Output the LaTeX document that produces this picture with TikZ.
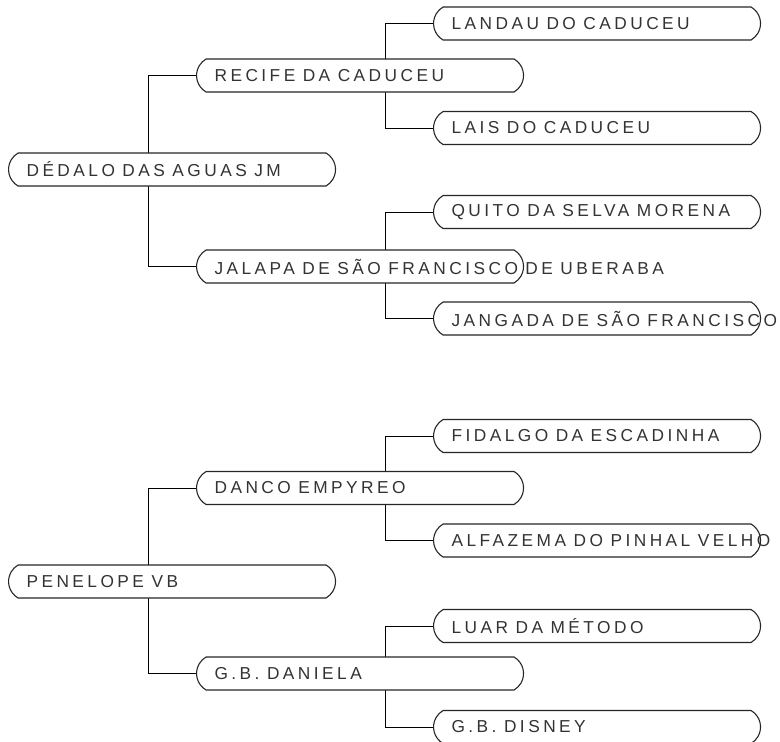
\documentclass[tikz,border=0pt]{standalone}
\usepackage{fontspec}
\setmainfont{Liberation Sans}
\newfontfamily\pedfont[LetterSpace=20]{Liberation Sans}
\newcommand\pedtype{\pedfont\fontsize{17.3}{19}\selectfont}
\newcommand\pedname[1]{\makebox[291pt][l]{\spaceskip=7.5pt\relax #1}}
\usetikzlibrary{shapes.misc,backgrounds}

\begin{document}
\begin{tikzpicture}[x=1pt,y=-1pt,
  pedbox/.style={rounded rectangle, rounded rectangle arc length=120,
    draw=black!85, line width=1.1pt, fill=white,
    minimum width=327pt, minimum height=33pt, inner xsep=0pt,
    anchor=west, font=\pedtype, text=black!80},
  link/.style={draw=black, line width=0.8pt}]
\useasboundingbox (0,0) rectangle (780,742);

% first generation
\node [pedbox] (dedalo) at (8,169.5) {\pedname{DÉDALO DAS AGUAS JM}};
\node [pedbox] (penelope) at (8,581.5) {\pedname{PENELOPE VB}};

% second generation
\node [pedbox] (recife) at (196,75.5) {\pedname{RECIFE DA CADUCEU}};
\node [pedbox] (jalapa) at (196,266.5) {\pedname{JALAPA DE SÃO FRANCISCO DE UBERABA}};
\node [pedbox] (danco) at (196,488) {\pedname{DANCO EMPYREO}};
\node [pedbox] (daniela) at (196,673.5) {\pedname{G.B. DANIELA}};

% third generation
\node [pedbox] (landau) at (433,23.5) {\pedname{LANDAU DO CADUCEU}};
\node [pedbox] (lais) at (433,128) {\pedname{LAIS DO CADUCEU}};
\node [pedbox] (quito) at (433,212) {\pedname{QUITO DA SELVA MORENA}};
\node [pedbox] (jangada) at (433,318.5) {\pedname{JANGADA DE SÃO FRANCISCO}};
\node [pedbox] (fidalgo) at (433,436) {\pedname{FIDALGO DA ESCADINHA}};
\node [pedbox] (alfazema) at (433,540.5) {\pedname{ALFAZEMA DO PINHAL VELHO}};
\node [pedbox] (luar) at (433,626) {\pedname{LUAR DA MÉTODO}};
\node [pedbox] (disney) at (433,727) {\pedname{G.B. DISNEY}};

\begin{scope}[on background layer]
  \foreach \a/\b in {recife/jalapa, danco/daniela, landau/lais,
    quito/jangada, fidalgo/alfazema, luar/disney}
    \draw [link] (\a.west) -- ++(-48,0) |- (\b.west);
\end{scope}
\end{tikzpicture}
\end{document}
